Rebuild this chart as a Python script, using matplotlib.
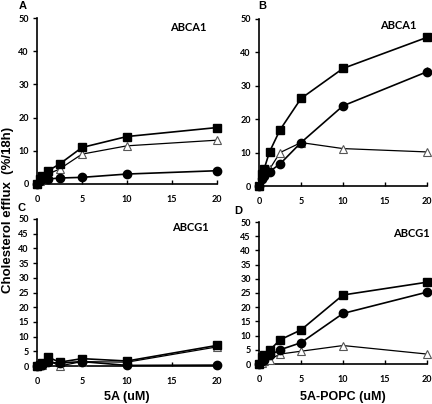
import numpy as np
import matplotlib
matplotlib.use('Agg')
import matplotlib.pyplot as plt

# concentrations (uM)
conc = [0, 0.3, 0.6, 1.25, 2.5, 5, 10, 20]

# A: 5A, ABCA1
a_sq = [0, 1.5, 2.5, 4.0, 6.0, 11.0, 14.3, 17.0]
a_tri = [0, 1.0, 2.0, 3.0, 4.5, 9.0, 11.5, 13.2]
a_ci = [0, 1.0, 1.5, 1.5, 1.8, 2.0, 3.0, 4.0]

# B: 5A-POPC, ABCA1
b_sq = [0, 3.5, 5.0, 10.2, 16.8, 26.2, 35.2, 44.5]
b_ci = [0, 2.0, 3.0, 4.3, 6.6, 13.0, 24.0, 34.2]
b_tri = [0, 3.0, 4.5, 5.0, 10.0, 13.0, 11.2, 10.2]

# C: 5A, ABCG1
c_sq = [0, 0.5, 1.0, 3.0, 1.3, 2.5, 1.7, 7.0]
c_tri = [0, 0.3, 0.5, 2.0, 0.0, 1.5, 1.3, 6.5]
c_ci = [0, 0.3, 0.4, 1.2, 1.0, 1.5, 0.2, 0.3]

# D: 5A-POPC, ABCG1
d_sq = [0, 2.5, 3.0, 4.8, 8.5, 12.0, 24.3, 28.8]
d_ci = [0, 1.0, 1.5, 3.0, 5.0, 7.5, 17.8, 25.3]
d_tri = [0, 0.5, 1.0, 1.5, 3.5, 4.5, 6.5, 3.5]

tick_font = dict(family='Lato', weight='bold', size=6.5)

fig = plt.figure(figsize=(4.32, 4.04), dpi=100)
W, H = 432.0, 404.0


def make_ax(l, r, t, b):
    return fig.add_axes([l / W, 1 - b / H, (r - l) / W, (b - t) / H])


def draw(ax, sq, ci, tri, yticks, name, tx, ty):
    ax.plot(conc, tri, '-', color='black', lw=0.9, marker='^', ms=6,
            mfc='white', mec='#555555', mew=0.8, clip_on=False, zorder=3)
    ax.plot(conc, ci, '-', color='black', lw=1.2, marker='o', ms=6,
            mfc='black', mec='black', clip_on=False, zorder=4)
    ax.plot(conc, sq, '-', color='black', lw=1.2, marker='s', ms=6,
            mfc='black', mec='black', clip_on=False, zorder=5)
    ax.set_xlim(0, 20)
    ax.set_ylim(0, 50)
    ax.set_xticks([0, 5, 10, 15, 20])
    ax.set_yticks(yticks)
    for s in ['top', 'right']:
        ax.spines[s].set_visible(False)
    for s in ['left', 'bottom']:
        ax.spines[s].set_linewidth(1.2)
    ax.tick_params(axis='x', direction='in', length=3, width=1, pad=8)
    ax.tick_params(axis='y', direction='out', length=3, width=1, pad=3)
    for lab in ax.get_xticklabels() + ax.get_yticklabels():
        lab.set_fontproperties(tick_font)
    ax.text(tx, ty, name, transform=ax.transAxes, fontsize=8,
            family='Lato', weight='bold', ha='center', va='center')


axA = make_ax(37, 217, 18, 184)
axB = make_ax(259, 427, 19, 186)
axC = make_ax(37, 217, 219, 366)
axD = make_ax(259, 427, 222, 364)

draw(axA, a_sq, a_ci, a_tri, range(0, 51, 10), 'ABCA1', 0.84, 0.94)
draw(axB, b_sq, b_ci, b_tri, range(0, 51, 10), 'ABCA1', 0.83, 0.96)
draw(axC, c_sq, c_ci, c_tri, range(0, 51, 5), 'ABCG1', 0.85, 0.94)
draw(axD, d_sq, d_ci, d_tri, range(0, 51, 5), 'ABCG1', 0.91, 0.92)

# small error bars
axB.errorbar([10, 20], [24.0, 34.2], yerr=[1.0, 1.3], fmt='none',
             ecolor='black', lw=1, capsize=0, clip_on=False)
axC.errorbar([20], [7.0], yerr=[1.2], fmt='none', ecolor='black', lw=1,
             capsize=0, clip_on=False)

for lbl, x, y in [('A', 23, 6), ('B', 262, 6), ('C', 21, 208), ('D', 238, 211)]:
    fig.text(x / W, 1 - y / H, lbl, fontsize=8, family='Liberation Sans',
             weight='bold', ha='center', va='center')

fig.text(8 / W, 1 - 210 / H, 'Cholesterol efflux  (%/18h)', rotation=90,
         fontsize=9.5, family='Liberation Sans', weight='bold',
         ha='center', va='center')
fig.text(127 / W, 1 - 397 / H, '5A (uM)', fontsize=9, family='Liberation Sans',
         weight='bold', ha='center', va='center')
fig.text(343 / W, 1 - 397 / H, '5A-POPC (uM)', fontsize=9,
         family='Liberation Sans', weight='bold', ha='center', va='center')

fig.savefig('out.png', dpi=100)
